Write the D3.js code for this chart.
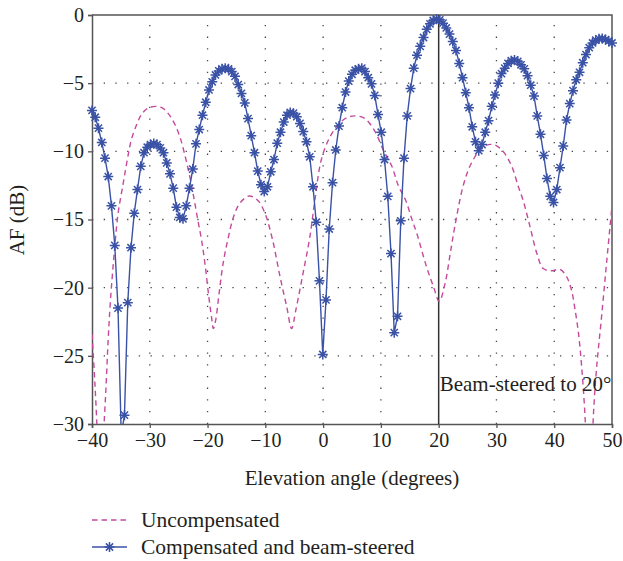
<!DOCTYPE html>
<html>
<head>
<meta charset="utf-8">
<script src="https://cdn.jsdelivr.net/npm/d3@7"></script>
<style>
body { margin: 0; background: #fff; }
svg text { font-family: "Liberation Serif", "DejaVu Serif", serif; fill: #231f20; }
</style>
</head>
<body>
<script>
// compensated and beam-steered pattern, one value per marker
var angles = [-40, -39.44, -38.88, -38.31, -37.75, -37.19, -36.63, -36.06, -35.5, -34.94,
  -34.38, -33.81, -33.25, -32.69, -32.13, -31.56, -31, -30.44, -29.88, -29.31,
  -28.75, -28.19, -27.63, -27.06, -26.5, -25.94, -25.38, -24.81, -24.25, -23.69,
  -23.13, -22.56, -22, -21.44, -20.88, -20.31, -19.75, -19.19, -18.63, -18.06,
  -17.5, -16.94, -16.38, -15.81, -15.25, -14.69, -14.13, -13.56, -13, -12.44,
  -11.88, -11.31, -10.75, -10.19, -9.63, -9.06, -8.5, -7.94, -7.38, -6.81,
  -6.25, -5.69, -5.13, -4.56, -4, -3.44, -2.88, -2.31, -1.75, -1.19,
  -0.63, -0.06, 0.5, 1.06, 1.63, 2.19, 2.75, 3.31, 3.88, 4.44,
  5, 5.56, 6.13, 6.69, 7.25, 7.81, 8.38, 8.94, 9.5, 10.06,
  10.63, 11.19, 11.75, 12.31, 12.88, 13.44, 14, 14.56, 15.13, 15.69,
  16.25, 16.81, 17.38, 17.94, 18.5, 19.06, 19.63, 20.19, 20.75, 21.31,
  21.88, 22.44, 23, 23.56, 24.13, 24.69, 25.25, 25.81, 26.38, 26.94,
  27.5, 28.06, 28.63, 29.19, 29.75, 30.31, 30.88, 31.44, 32, 32.56,
  33.13, 33.69, 34.25, 34.81, 35.38, 35.94, 36.5, 37.06, 37.63, 38.19,
  38.75, 39.31, 39.88, 40.44, 41, 41.56, 42.13, 42.69, 43.25, 43.81,
  44.38, 44.94, 45.5, 46.06, 46.63, 47.19, 47.75, 48.31, 48.88, 49.44, 50];
var compensated = [-7.0, -7.5, -8.3, -9.35, -10.5, -11.85, -14.0, -16.9, -21.5, -30.8,
  -29.35, -21.1, -17.07, -14.55, -12.8, -11.1, -10.1, -9.7, -9.5, -9.42,
  -9.5, -9.75, -10.1, -10.85, -11.65, -12.7, -14.1, -14.85, -14.95, -14.0,
  -12.7, -11.3, -9.45, -8.4, -7.35, -6.4, -5.5, -4.9, -4.4, -4.1,
  -3.95, -3.9, -3.95, -4.15, -4.5, -5.1, -5.75, -6.45, -7.6, -8.85,
  -10.1, -11.45, -12.45, -12.95, -12.6, -11.5, -10.6, -9.4, -8.6, -7.85,
  -7.35, -7.15, -7.2, -7.46, -7.95, -8.55, -9.3, -10.4, -12.6, -15.2,
  -19.5, -24.9, -20.9, -15.7, -12.3, -9.9, -8.15, -6.8, -5.65, -4.85,
  -4.35, -4.05, -3.95, -3.9, -4.15, -4.6, -5.05, -5.9, -7.3, -8.6,
  -10.6, -13.3, -17.5, -23.3, -22.1, -15.1, -10.5, -7.4, -5.4, -3.9,
  -2.95, -2.3, -1.65, -1.05, -0.65, -0.4, -0.3, -0.35, -0.6, -0.95,
  -1.4, -1.95, -2.6, -3.55, -4.6, -5.7, -6.8, -8.2, -9.3, -9.95,
  -9.5, -8.6, -7.75, -6.7, -5.87, -5.0, -4.3, -3.9, -3.55, -3.35,
  -3.3, -3.4, -3.65, -3.95, -4.45, -5.15, -5.95, -7.4, -8.75, -10.3,
  -12.0, -13.3, -13.75, -12.8, -11.2, -9.6, -7.7, -6.5, -5.55, -4.75,
  -4.2, -3.5, -2.9, -2.4, -2.05, -1.85, -1.75, -1.72, -1.8, -1.9, -2.05];

// uncompensated pattern (dashed)
var uncompAngles = [-40, -39.5, -39, -38.6, -38.1, -37.6, -37.2, -36.8, -36.1, -35.5,
  -34.6, -33.9, -33.2, -32.3, -31.5, -30.4, -29, -27.7, -26.6, -25.6,
  -24.7, -24, -23.2, -22.5, -21.7, -21, -20.4, -19.8, -19.3, -19,
  -18.6, -18, -17.3, -16.4, -15.5, -14.4, -12.8, -11.3, -10.1, -8.8,
  -7.5, -6.3, -5.45, -4.7, -3.5, -2.3, -1.4, -0.3, 1.2, 2.9,
  4.3, 5.5, 7.2, 9, 10.4, 11.9, 13, 14.3, 15.3, 16.2,
  17.9, 19.1, 20.1, 21.1, 22, 22.8, 24.2, 25.4, 26.9, 28.3,
  29.75, 31.2, 32.65, 33.8, 34.6, 35.8, 37, 38.1, 39.6, 41,
  42.15, 43, 43.6, 44.2, 44.75, 45.3, 45.7, 46.1, 46.45, 46.8,
  47.35, 48.2, 49.1, 50];
var uncompensated = [-23.4, -27.0, -31.5, -36, -31.5, -27.5, -23.8, -20.9, -17.2, -14.6,
  -12.35, -10.64, -9.17, -8.07, -7.34, -6.85, -6.7, -6.85, -7.34, -8.07,
  -9.05, -10.15, -11.6, -13.1, -15.0, -16.6, -18.4, -20.6, -22.2, -23.0,
  -22.4, -20.4, -18.2, -16.3, -14.8, -13.8, -13.28, -13.6, -14.5, -16.4,
  -19.1, -21.4, -23.0, -21.6, -19.0, -16.3, -13.5, -10.6, -8.93, -7.9,
  -7.5, -7.4, -7.58, -8.56, -9.9, -11.1, -12.5, -13.6, -14.9, -16.0,
  -18.47, -19.93, -21.0, -19.7, -17.5, -15.5, -12.6, -11.1, -10.03, -9.54,
  -9.54, -10.03, -11.1, -12.6, -13.57, -15.5, -17.5, -18.6, -18.76, -18.66,
  -19.2, -20.2, -21.6, -23.35, -25.8, -29.2, -33, -36, -33, -29.2,
  -25.8, -22.1, -18.0, -14.0];

var xTicks = [-40, -30, -20, -10, 0, 10, 20, 30, 40, 50];
var yTicks = [0, -5, -10, -15, -20, -25, -30];
var steerAngle = 20;

var blue = "#3a52a6", pink = "#c54a9c", frame = "#555";

var svg = d3.select("body").append("svg")
    .attr("width", 623)
    .attr("height", 561);

var x = d3.scaleLinear().domain([-40, 50]).range([92, 612]);
var y = d3.scaleLinear().domain([-30, 0]).range([424, 15]);

svg.append("clipPath").attr("id", "plot")
   .append("rect").attr("x", 92).attr("y", 15).attr("width", 520).attr("height", 409);
svg.append("clipPath").attr("id", "marks")
   .append("rect").attr("x", 86).attr("y", 9).attr("width", 532).attr("height", 421);

// dotted grid
svg.append("g").selectAll("line").data(yTicks.slice(1, -1)).enter().append("line")
   .attr("x1", 92).attr("x2", 612)
   .attr("y1", d => y(d)).attr("y2", d => y(d))
   .attr("stroke", "#444").attr("stroke-width", 1.3)
   .attr("stroke-dasharray", "1.3,10.4");
svg.append("g").selectAll("line").data(xTicks.filter(d => d > -40 && d < 50 && d != steerAngle)).enter().append("line")
   .attr("x1", d => x(d)).attr("x2", d => x(d))
   .attr("y1", 424).attr("y2", 15)
   .attr("stroke", "#444").attr("stroke-width", 1.3)
   .attr("stroke-dasharray", "1.3,10.4");

// frame (top + right)
svg.append("path").attr("d", "M92,15H612V424")
   .attr("fill", "none").attr("stroke", frame).attr("stroke-width", 1.5);

// axes
var fmt = d => d3.format("")(d).replace("-", "\u2212");
var xAxis = svg.append("g").attr("transform", "translate(0,424)")
   .call(d3.axisBottom(x).tickValues(xTicks).tickSize(4).tickPadding(5).tickFormat(fmt));
var yAxis = svg.append("g").attr("transform", "translate(92,0)")
   .call(d3.axisLeft(y).tickValues(yTicks).tickSize(4).tickPadding(4).tickFormat(fmt));
[xAxis, yAxis].forEach(function(a) {
    a.select(".domain").attr("stroke", frame).attr("stroke-width", 1.5);
    a.selectAll(".tick line").attr("stroke", frame).attr("stroke-width", 1.3);
    a.selectAll("text").attr("font-size", 20).attr("fill", "#231f20")
     .style("font-family", "'Liberation Serif', serif");
});

// steering line
svg.append("line").attr("x1", x(steerAngle)).attr("x2", x(steerAngle))
   .attr("y1", 15).attr("y2", 424)
   .attr("stroke", "#333").attr("stroke-width", 1.5);

// uncompensated, dashed
var pts = uncompAngles.map((a, i) => [a, uncompensated[i]]);
svg.append("path").datum(pts)
   .attr("clip-path", "url(#plot)")
   .attr("d", d3.line().x(d => x(d[0])).y(d => y(d[1])).curve(d3.curveCatmullRom.alpha(0.5)))
   .attr("fill", "none").attr("stroke", pink).attr("stroke-width", 1.4)
   .attr("stroke-dasharray", "5.5,4");

// compensated, solid with asterisks
var cpts = angles.map((a, i) => [a, compensated[i]]);
svg.append("path").datum(cpts)
   .attr("clip-path", "url(#plot)")
   .attr("d", d3.line().x(d => x(d[0])).y(d => y(d[1])))
   .attr("fill", "none").attr("stroke", blue).attr("stroke-width", 1.4);

function star(r) {
    var k = r * 0.72;
    return "M0," + (-r) + "V" + r + "M" + (-r) + ",0H" + r +
           "M" + (-k) + "," + (-k) + "L" + k + "," + k +
           "M" + (-k) + "," + k + "L" + k + "," + (-k);
}
svg.append("g").attr("clip-path", "url(#marks)")
   .selectAll("path").data(cpts).enter().append("path")
   .attr("transform", d => "translate(" + x(d[0]) + "," + y(d[1]) + ")")
   .attr("d", star(5))
   .attr("fill", "none").attr("stroke", blue).attr("stroke-width", 1.5);

// annotation
svg.append("text").attr("x", x(steerAngle) + 1).attr("y", 391)
   .attr("font-size", 21).text("Beam-steered to 20\u00b0");

// axis titles
svg.append("text").attr("x", 352).attr("y", 485)
   .attr("text-anchor", "middle").attr("font-size", 21)
   .text("Elevation angle (degrees)");
svg.append("text").attr("transform", "translate(24,220) rotate(-90)")
   .attr("text-anchor", "middle").attr("font-size", 21)
   .text("AF (dB)");

// legend
svg.append("line").attr("x1", 92).attr("x2", 127).attr("y1", 520).attr("y2", 520)
   .attr("stroke", pink).attr("stroke-width", 1.4).attr("stroke-dasharray", "5.5,4");
svg.append("text").attr("x", 141).attr("y", 527).attr("font-size", 21.5).text("Uncompensated");
svg.append("line").attr("x1", 92).attr("x2", 127).attr("y1", 547).attr("y2", 547)
   .attr("stroke", blue).attr("stroke-width", 1.4);
svg.append("path").attr("transform", "translate(109.5,547)").attr("d", star(5))
   .attr("fill", "none").attr("stroke", blue).attr("stroke-width", 1.5);
svg.append("text").attr("x", 141).attr("y", 554).attr("font-size", 21.5).text("Compensated and beam-steered");
</script>
</body>
</html>
